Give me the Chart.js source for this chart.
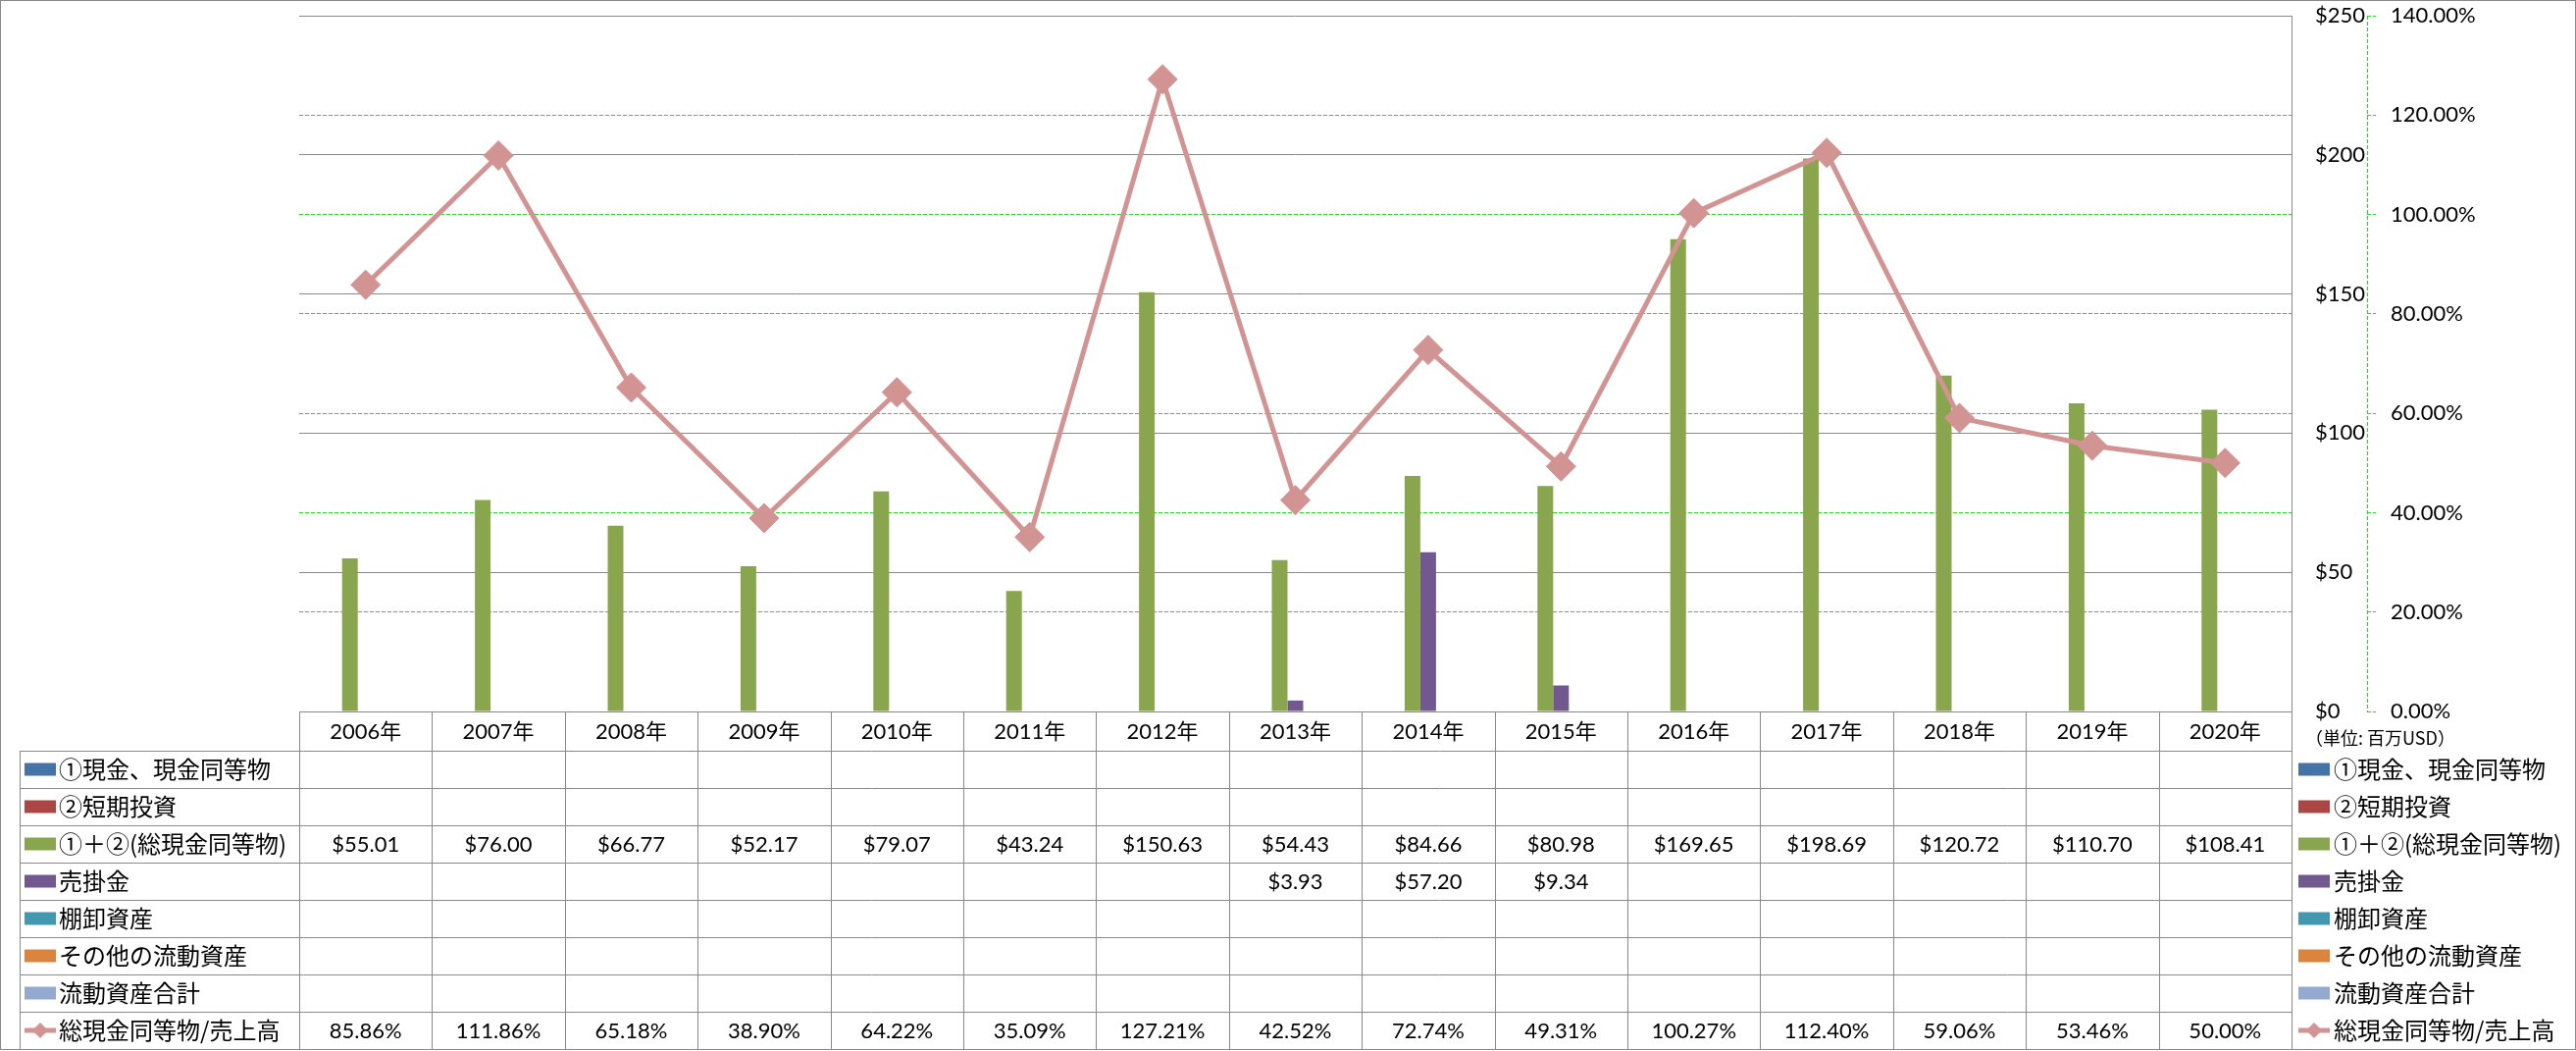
<!DOCTYPE html>
<html lang="ja">
<head>
<meta charset="utf-8">
<title>総現金同等物/売上高</title>
<script src="https://cdn.jsdelivr.net/npm/chart.js@4/dist/chart.umd.min.js"></script>
<style>
  html, body { margin: 0; padding: 0; background: #fff; }
  #wrap { width: 2626px; height: 1071px; }
</style>
</head>
<body>
<div id="wrap"><canvas id="chart" width="2626" height="1071"></canvas></div>
<script>
// 年度
const years = ['2006年', '2007年', '2008年', '2009年', '2010年', '2011年', '2012年', '2013年',
    '2014年', '2015年', '2016年', '2017年', '2018年', '2019年', '2020年'];

// 系列データ (百万USD)
const cashEq = [];
const shortInvest = [];
const totalCash = [55.01, 76.00, 66.77, 52.17, 79.07, 43.24, 150.63, 54.43,
    84.66, 80.98, 169.65, 198.69, 120.72, 110.70, 108.41];
const receivables = [null, null, null, null, null, null, null, 3.93,
    57.20, 9.34, null, null, null, null, null];
const inventory = [];
const otherCurrent = [];
const totalCurrent = [];
// 総現金同等物/売上高 (%)
const cashRatio = [85.86, 111.86, 65.18, 38.90, 64.22, 35.09, 127.21, 42.52,
    72.74, 49.31, 100.27, 112.40, 59.06, 53.46, 50.00];

const seriesNames = ['①現金、現金同等物', '②短期投資', '①＋②(総現金同等物)', '売掛金',
    '棚卸資産', 'その他の流動資産', '流動資産合計', '総現金同等物/売上高'];
const seriesColors = ['#4572A7', '#AA4643', '#89A54E', '#71588F', '#4198AF', '#DB843D', '#93A9CF', '#D29393'];
const barSeries = [cashEq, shortInvest, totalCash, receivables, inventory, otherCurrent, totalCurrent];

const GRID_GRAY = '#898989';
const GRID_GREEN = '#22DD22';
const NUM_FONT = "22px Lato, 'Noto Sans CJK JP'";
const JP_FONT = "24px 'Noto Sans CJK JP'";

/**
 * 凡例マーカー (四角 or 線+ひし形)
 */
function drawKey(ctx, i, x, y) {
    ctx.save();
    if (i === 7) {
        ctx.strokeStyle = seriesColors[i];
        ctx.lineWidth = 5;
        ctx.beginPath();
        ctx.moveTo(x, y);
        ctx.lineTo(x + 32, y);
        ctx.stroke();
        ctx.fillStyle = seriesColors[i];
        ctx.beginPath();
        ctx.moveTo(x + 16, y - 8);
        ctx.lineTo(x + 24, y);
        ctx.lineTo(x + 16, y + 8);
        ctx.lineTo(x + 8, y);
        ctx.closePath();
        ctx.fill();
    } else {
        ctx.fillStyle = seriesColors[i];
        ctx.fillRect(x, y - 6.5, 32, 13);
    }
    ctx.restore();
}

/**
 * データテーブルと右側の凡例
 */
const dataTablePlugin = {
    id: 'dataTable',
    afterDraw(chart) {
        const {ctx, chartArea, scales} = chart;
        const xs = scales.x;
        const colW = (chartArea.right - chartArea.left) / years.length;
        const top = chartArea.bottom;
        const headBottom = top + 40;
        const rowH = 38;
        const bottom = headBottom + rowH * seriesNames.length;
        const labelLeft = 20;

        ctx.save();
        ctx.strokeStyle = GRID_GRAY;
        ctx.lineWidth = 1;
        ctx.beginPath();
        ctx.moveTo(chartArea.left, top + 0.5);
        ctx.lineTo(chartArea.right, top + 0.5);
        for (let r = 0; r <= seriesNames.length; r++) {
            const y = Math.round(headBottom + r * rowH) + 0.5;
            ctx.moveTo(labelLeft, y);
            ctx.lineTo(chartArea.right, y);
        }
        for (let c = 0; c <= years.length; c++) {
            const x = Math.round(chartArea.left + c * colW) + 0.5;
            ctx.moveTo(x, top);
            ctx.lineTo(x, bottom);
        }
        ctx.moveTo(labelLeft + 0.5, headBottom);
        ctx.lineTo(labelLeft + 0.5, bottom);
        ctx.stroke();

        ctx.fillStyle = '#000';
        ctx.textBaseline = 'middle';
        ctx.textAlign = 'center';
        ctx.font = NUM_FONT;
        years.forEach((yr, i) => {
            ctx.fillText(yr, xs.getPixelForValue(i), (top + headBottom) / 2 + 1);
        });

        const rows = barSeries.concat([cashRatio]);
        rows.forEach((vals, r) => {
            const cy = headBottom + r * rowH + rowH / 2;
            // 左側のラベル
            drawKey(ctx, r, 25, cy);
            ctx.fillStyle = '#000';
            ctx.textAlign = 'left';
            ctx.font = JP_FONT;
            ctx.fillText(seriesNames[r], 60, cy);
            // 右側の凡例
            drawKey(ctx, r, 2343, cy);
            ctx.fillStyle = '#000';
            ctx.fillText(seriesNames[r], 2379, cy);
            // 値
            ctx.textAlign = 'center';
            ctx.font = NUM_FONT;
            vals.forEach((v, i) => {
                if (v === null || v === undefined) return;
                const txt = r === 7 ? v.toFixed(2) + '%' : '$' + v.toFixed(2);
                ctx.fillText(txt, xs.getPixelForValue(i), cy + 1);
            });
        });

        // 単位
        ctx.textAlign = 'left';
        ctx.font = "18px 'Noto Sans CJK JP'";
        ctx.fillText('（単位: 百万USD）', 2350, 752);

        // 右軸の点線
        const y1 = scales.y1;
        ctx.strokeStyle = GRID_GREEN;
        ctx.setLineDash([4, 2]);
        ctx.beginPath();
        ctx.moveTo(Math.round(y1.left) + 0.5, chartArea.top);
        ctx.lineTo(Math.round(y1.left) + 0.5, chartArea.bottom);
        ctx.stroke();
        ctx.setLineDash([]);

        // 外枠
        ctx.strokeStyle = GRID_GRAY;
        ctx.strokeRect(0.5, 0.5, chart.width - 1, chart.height - 2);
        ctx.restore();
    }
};

const barDatasets = barSeries.map((vals, i) => ({
    type: 'bar',
    label: seriesNames[i],
    data: vals,
    backgroundColor: seriesColors[i],
    borderWidth: 0,
    yAxisID: 'y',
    order: 1,
    categoryPercentage: 0.827,
    barPercentage: 1.0,
}));

new Chart(document.getElementById('chart'), {
    data: {
        labels: years,
        datasets: [{
            type: 'line',
            label: seriesNames[7],
            data: cashRatio,
            yAxisID: 'y1',
            order: 0,
            borderColor: seriesColors[7],
            backgroundColor: seriesColors[7],
            borderWidth: 5,
            tension: 0,
            pointStyle: 'rectRot',
            pointRadius: 15,
            pointHoverRadius: 15,
            pointBackgroundColor: seriesColors[7],
            pointBorderColor: seriesColors[7],
            pointBorderWidth: 1,
        }].concat(barDatasets)
    },
    options: {
        responsive: false,
        animation: false,
        devicePixelRatio: 1,
        layout: {
            padding: { left: 305, top: 15, right: 0, bottom: 346 }
        },
        plugins: {
            legend: { display: false },
            tooltip: { enabled: false },
        },
        scales: {
            x: {
                type: 'category',
                display: false,
                offset: true,
                grid: { display: false },
            },
            y: {
                type: 'linear',
                position: 'right',
                weight: 0,
                min: 0,
                max: 250,
                ticks: {
                    stepSize: 50,
                    padding: 24,
                    crossAlign: 'near',
                    color: '#000',
                    font: { family: 'Lato', size: 22 },
                    callback: function(value) {
                        return '$' + value;
                    }
                },
                grid: { color: GRID_GRAY, lineWidth: 1, drawTicks: false },
                border: { display: true, color: GRID_GRAY, width: 1 },
                afterFit: function(scale) {
                    scale.width = 77;
                    scale.paddingTop = 0;
                    scale.paddingBottom = 0;
                }
            },
            y1: {
                type: 'linear',
                position: 'right',
                weight: 1,
                min: 0,
                max: 140,
                ticks: {
                    stepSize: 20,
                    padding: 15,
                    crossAlign: 'near',
                    color: '#000',
                    font: { family: 'Lato', size: 22 },
                    callback: function(value) {
                        return value.toFixed(2) + '%';
                    }
                },
                grid: {
                    color: function(c) {
                        const v = c.tick ? c.tick.value : null;
                        return (v === 0 || v === 140) ? 'rgba(0,0,0,0)' : GRID_GREEN;
                    },
                    lineWidth: 1,
                    tickColor: GRID_GREEN,
                    tickLength: 9,
                    tickBorderDash: [4, 2],
                },
                border: { display: false, dash: [4, 2] },
                afterFit: function(scale) {
                    scale.width = 213;
                    scale.paddingTop = 0;
                    scale.paddingBottom = 0;
                }
            }
        }
    },
    plugins: [dataTablePlugin]
});
</script>
</body>
</html>
